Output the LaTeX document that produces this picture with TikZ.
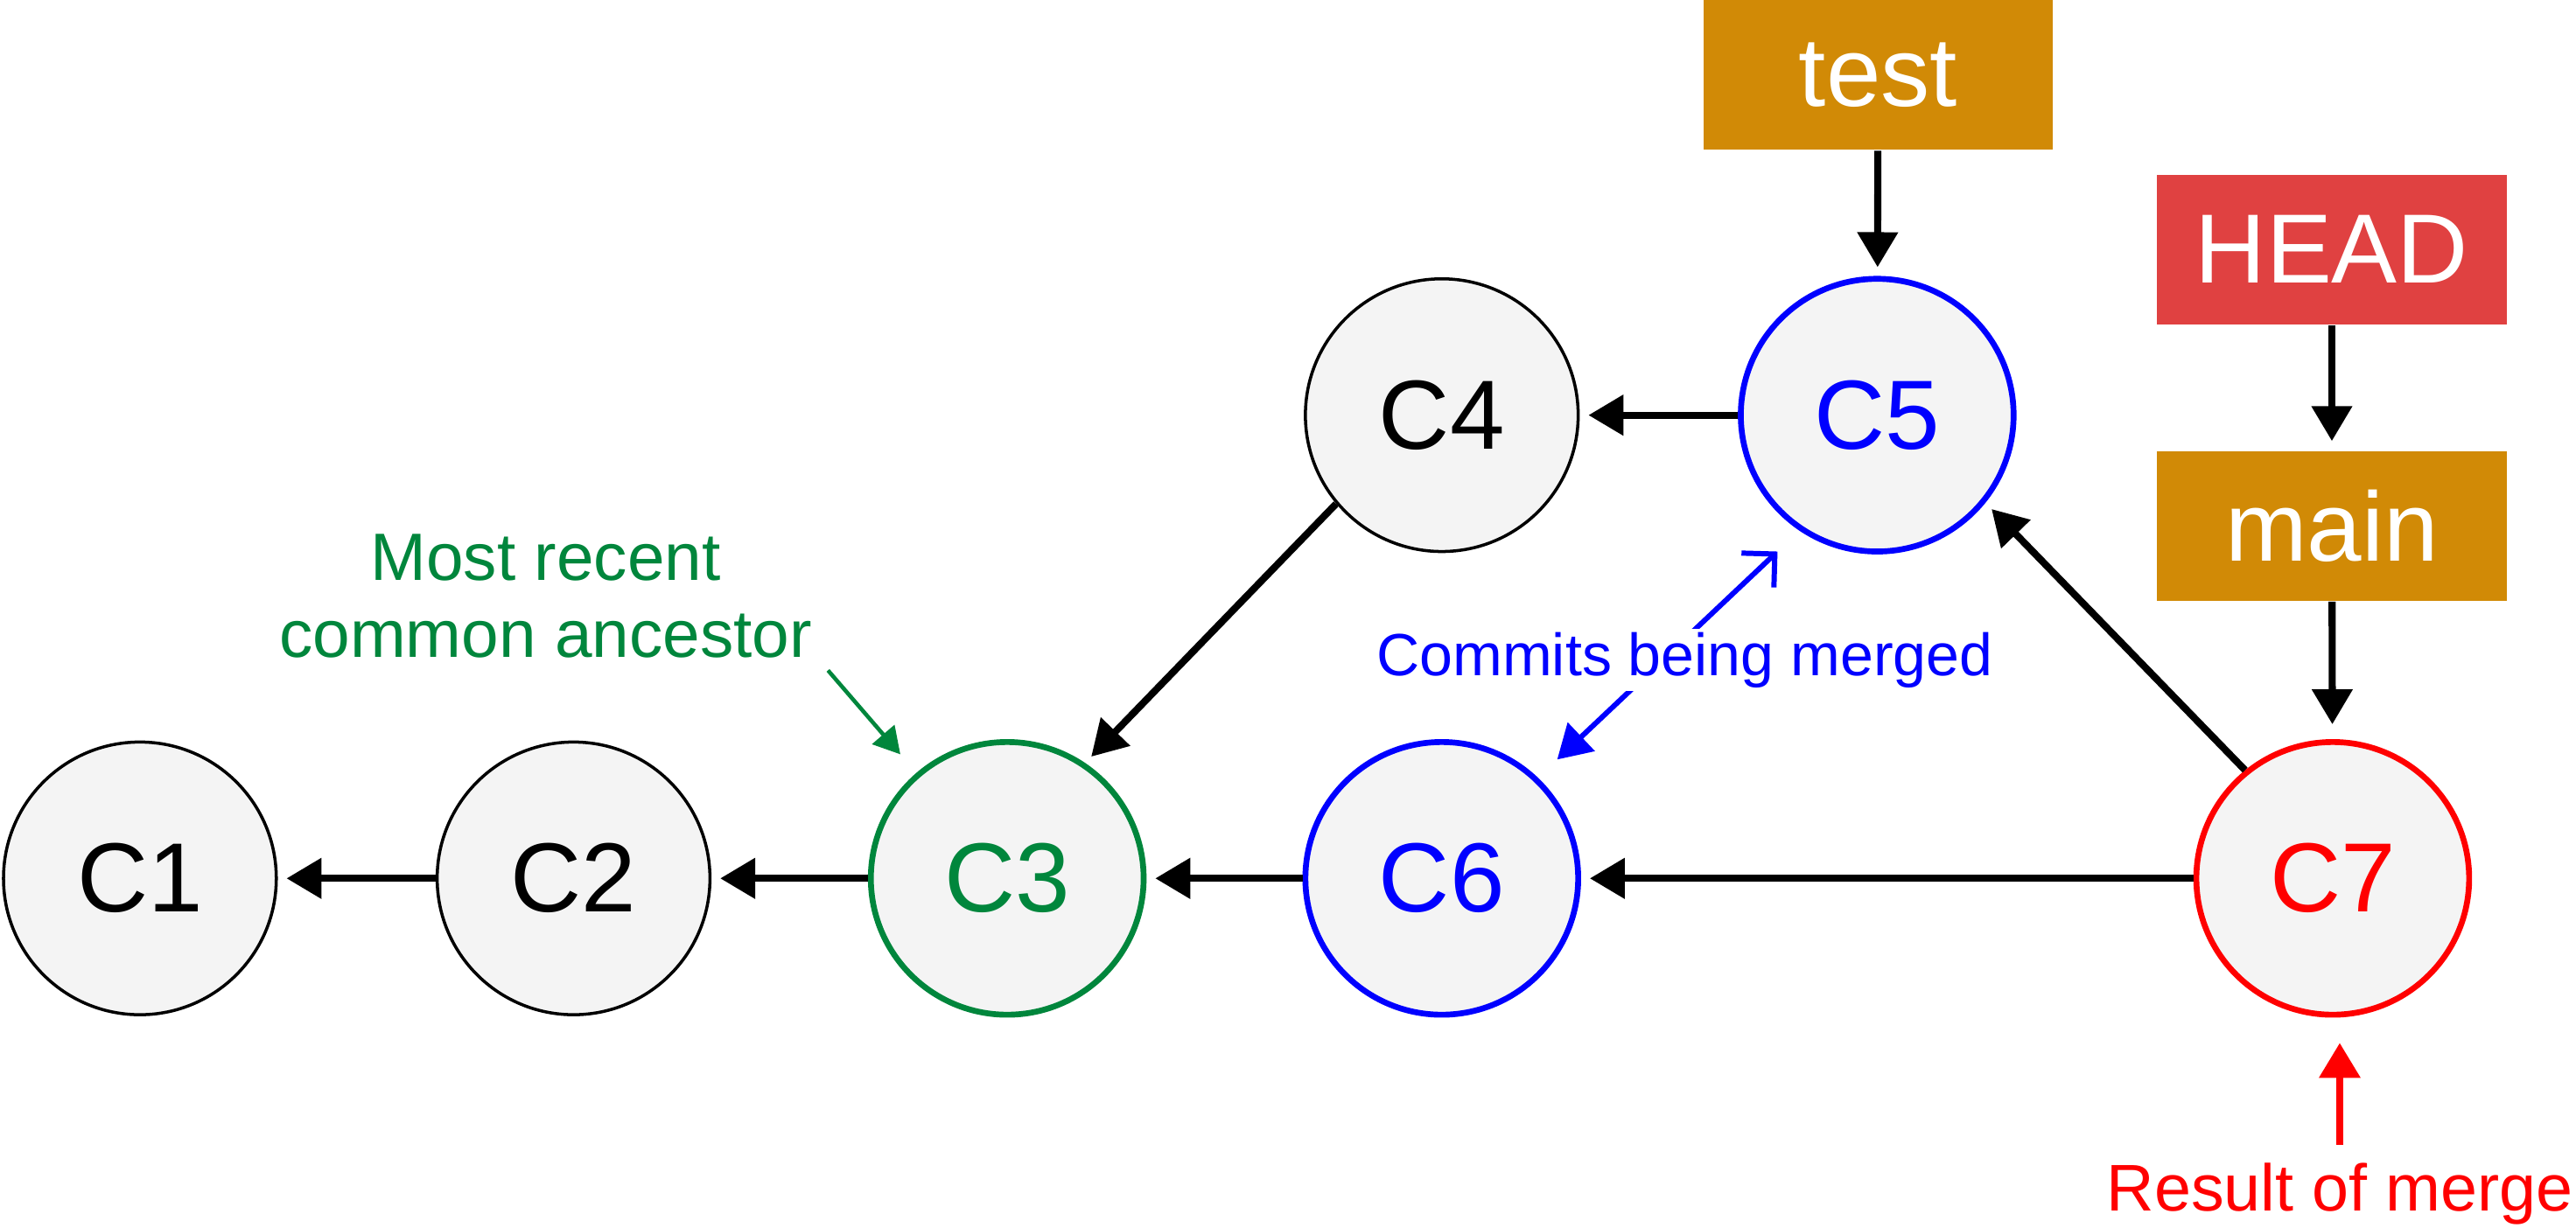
\documentclass[tikz,border=0pt]{standalone}
\usepackage{fontspec}
\setmainfont{Liberation Sans}
\usetikzlibrary{arrows.meta}
\definecolor{commitgray}{RGB}{244,244,244}
\definecolor{ancestorgreen}{RGB}{0,134,60}
\definecolor{branchorange}{RGB}{209,138,6}
\definecolor{headred}{RGB}{224,65,65}
\tikzset{
  commit/.style={
    circle,
    draw=black,
    fill=commitgray,
    line width=0.5pt,
    minimum size=15.6mm,
    inner sep=0pt,
    font=\fontsize{16}{19}\selectfont
  },
  merging/.style={line width=0.95pt,draw=#1,text=#1},
  branch/.style={
    rectangle,
    fill=branchorange,
    text=white,
    minimum width=20mm,
    minimum height=8.55mm,
    inner sep=0pt,
    font=\fontsize{16}{19}\selectfont
  },
  note/.style={inner sep=0.5pt,align=center},
  parent/.style={-{Triangle[length=2mm,width=2.25mm]},line width=1.15pt,shorten >=0.5mm}
}

\begin{document}
\begin{tikzpicture}[x=0.05mm,y=-0.05mm]
  \path[fill=white] (0,0) rectangle (2944,1400);

  \node[commit] (C1) at (160,1005) {C1};
  \node[commit] (C2) at (656,1005) {C2};
  \node[commit,merging=ancestorgreen] (C3) at (1152,1005) {C3};
  \node[commit] (C4) at (1649,475) {C4};
  \node[commit,merging=blue] (C5) at (2147,475) {C5};
  \node[commit,merging=blue] (C6) at (1649,1005) {C6};
  \node[commit,merging=red] (C7) at (2668,1005) {C7};

  \node[branch] (test) at (2148,85.5) {test};
  \node[branch,fill=headred] (HEAD) at (2667,285.5) {HEAD};
  \node[branch] (main) at (2667,601.5) {main};

  \draw[parent] (C2) -- (C1);
  \draw[parent] (C3) -- (C2);
  \draw[parent] (C6) -- (C3);
  \draw[parent] (C7) -- (C6);
  \draw[parent] (C5) -- (C4);
  \draw[parent] (C4.220) -- (C3.56);
  \draw[parent] (C7.129) -- (C5.-39);
  \draw[parent] (test) -- (C5);
  \draw[parent] (HEAD) -- (main);
  \draw[parent,shorten >=0.85mm] (main) -- (C7);

  % annotations
  \node[note,text=ancestorgreen,font=\fontsize{10.9}{12.5}\selectfont]
    (mrca) at (624,682) {Most recent\\common ancestor};
  \coordinate (mrcafoot) at (947,767);
  \draw[-{Triangle[length=1.5mm,width=1.65mm]},line width=0.65pt,
    draw=ancestorgreen,fill=ancestorgreen,shorten >=1.4mm] (mrcafoot) -- (C3);

  \coordinate (tipC5) at (2033,631);
  \coordinate (tipC6) at (1781,869);
  \draw[{Straight Barb[length=1.35mm,width=2.7mm]}-{Triangle[length=1.9mm,width=2.2mm]},
    line width=0.85pt,blue] (tipC5) -- (tipC6);
  \node[note,fill=white,text=blue,font=\fontsize{9.7}{11}\selectfont]
    (merged) at (1927,755) {Commits being merged};

  \node[note,text=red,font=\fontsize{10.75}{12.5}\selectfont]
    (result) at (2676,1366) {Result of merge};
  \draw[-{Triangle[length=2mm,width=2.3mm]},line width=1.05pt,red,
    shorten <=0.8mm,shorten >=1.45mm] (result) -- (result |- C7.south);
\end{tikzpicture}
\end{document}
